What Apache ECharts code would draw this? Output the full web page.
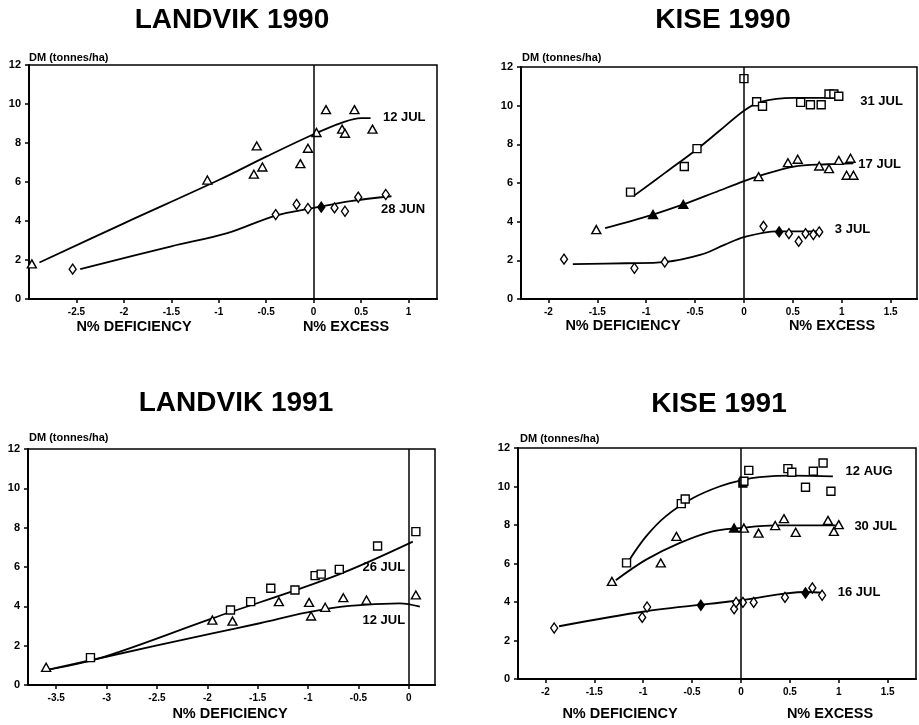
<!DOCTYPE html>
<html><head><meta charset="utf-8">
<script src="https://cdn.jsdelivr.net/npm/echarts@6/dist/echarts.min.js"></script>
<style>html,body{margin:0;padding:0;background:#fff}#c{width:919px;height:725px}</style>
</head><body><div id="c"></div>
<script>
// ---------- DATA ----------
const titles = ['LANDVIK 1990', 'KISE 1990', 'LANDVIK 1991', 'KISE 1991'];
const yTicks = [0, 2, 4, 6, 8, 10, 12];
const xTicksL90 = [-2.5, -2, -1.5, -1, -0.5, 0, 0.5, 1];
const xTicksK90 = [-2, -1.5, -1, -0.5, 0, 0.5, 1, 1.5];
const xTicksL91 = [-3.5, -3, -2.5, -2, -1.5, -1, -0.5, 0];
const xTicksK91 = [-2, -1.5, -1, -0.5, 0, 0.5, 1, 1.5];

// LANDVIK 1990
const l90_12jul_pts = [[-2.97,1.8],[-1.12,6.1],[-0.63,6.4],[-0.60,7.85],[-0.54,6.77],[-0.14,6.94],[-0.06,7.73],[0.03,8.54],[0.13,9.71],[0.30,8.71],[0.33,8.5],[0.43,9.71],[0.62,8.71]];
const l90_12jul_fit = [[-2.89,1.87],[-2,3.88],[-1,6.1],[-0.5,7.3],[0,8.45],[0.3,9.05],[0.5,9.28],[0.6,9.28]];
const l90_28jun_pts = [[-2.54,1.53],[-0.40,4.33],[-0.18,4.85],[-0.06,4.64],[0.08,4.71],[0.22,4.67],[0.33,4.5],[0.47,5.22],[0.76,5.36]];
const l90_28jun_fit = [[-2.46,1.53],[-1.5,2.7],[-0.91,3.38],[-0.4,4.28],[0,4.67],[0.39,5.02],[0.82,5.27]];

// KISE 1990
const k90_31jul_pts = [[-1.16,5.53],[-0.61,6.85],[-0.48,7.78],[0,11.4],[0.13,10.2],[0.19,9.97],[0.58,10.17],[0.68,10.05],[0.79,10.05],[0.87,10.6],[0.92,10.6],[0.97,10.49]];
const k90_31jul_fit = [[-1.13,5.32],[-0.8,6.55],[-0.48,7.75],[-0.25,8.7],[0,9.74],[0.17,10.2],[0.51,10.4],[0.97,10.4]];
const k90_17jul_pts = [[-1.51,3.59],[-0.93,4.37],[-0.62,4.89],[0.15,6.33],[0.45,7.05],[0.55,7.23],[0.77,6.88],[0.87,6.74],[0.97,7.17],[1.09,7.28],[1.05,6.4],[1.12,6.4]];
const k90_17jul_fit = [[-1.42,3.67],[-0.93,4.37],[-0.62,4.89],[-0.3,5.51],[0,6.1],[0.15,6.36],[0.51,6.85],[0.85,6.97],[1.12,7.02]];
const k90_3jul_pts = [[-1.84,2.06],[-1.12,1.59],[-0.81,1.91],[0.20,3.76],[0.36,3.47],[0.46,3.38],[0.56,2.98],[0.63,3.38],[0.71,3.33],[0.77,3.47]];
const k90_3jul_fit = [[-1.75,1.8],[-1.2,1.85],[-0.81,1.91],[-0.44,2.29],[-0.2,2.8],[0,3.2],[0.34,3.5],[0.8,3.5]];

// LANDVIK 1991
const l91_26jul_pts = [[-3.16,1.39],[-1.77,3.81],[-1.57,4.24],[-1.37,4.92],[-1.13,4.83],[-0.93,5.56],[-0.87,5.64],[-0.69,5.88],[-0.31,7.07],[0.07,7.8]];
const l91_26jul_fit = [[-3.6,0.76],[-3.07,1.36],[-1.95,3.39],[-0.75,5.51],[0.04,7.29]];
const l91_12jul_pts = [[-3.6,0.9],[-1.95,3.3],[-1.75,3.25],[-1.29,4.24],[-0.99,4.2],[-0.97,3.51],[-0.83,3.95],[-0.65,4.44],[-0.42,4.32],[0.07,4.58]];
const l91_12jul_fit = [[-3.6,0.76],[-3.07,1.36],[-1.95,2.63],[-1.48,3.14],[-1.02,3.68],[-0.59,4.02],[-0.09,4.15],[0.11,3.98]];

// KISE 1991
const k91_12aug_pts = [[-1.17,6.03],[-0.61,9.11],[-0.57,9.35],[0.02,10.18],[0.03,10.27],[0.08,10.84],[0.48,10.93],[0.52,10.74],[0.66,9.96],[0.74,10.79],[0.84,11.22],[0.92,9.75]];
const k91_12aug_fit = [[-1.14,6.2],[-0.97,7.41],[-0.77,8.45],[-0.49,9.4],[-0.22,10.0],[0.02,10.35],[0.19,10.49],[0.53,10.56],[0.94,10.53]];
const k91_30jul_pts = [[-1.32,5.07],[-0.82,6.03],[-0.66,7.41],[-0.07,7.84],[0.03,7.84],[0.18,7.58],[0.35,7.97],[0.44,8.33],[0.56,7.62],[0.89,8.24],[0.95,7.67],[1.0,8.02]];
const k91_30jul_fit = [[-1.28,5.13],[-0.97,6.2],[-0.63,7.06],[-0.29,7.67],[-0.02,7.84],[0.36,7.98],[0.97,7.98]];
const k91_16jul_pts = [[-1.91,2.65],[-1.01,3.2],[-0.96,3.74],[-0.41,3.83],[-0.07,3.64],[-0.05,3.98],[0.02,3.98],[0.13,3.98],[0.45,4.24],[0.66,4.47],[0.73,4.73],[0.83,4.35]];
const k91_16jul_fit = [[-1.86,2.74],[-0.97,3.52],[0,4.09],[0.66,4.52],[0.85,4.47]];

// curve labels: [text, x, y]
const l90_labels = [['12 JUL',0.73,9.33],['28 JUN',0.71,4.59]];
const k90_labels = [['31 JUL',1.19,10.2],['17 JUL',1.17,6.96],['3 JUL',0.93,3.58]];
const l91_labels = [['26 JUL',-0.46,6.0],['12 JUL',-0.46,3.3]];
const k91_labels = [['12 AUG',1.07,10.78],['30 JUL',1.16,7.93],['16 JUL',0.99,4.5]];

// ---------- LAYOUT / STYLE ----------
const FF = '"Liberation Sans", Arial, Helvetica, sans-serif';
const panels = [
  {grid:{left:29,top:65,width:408,height:234}, xr:[-3,1.3], ticks:xTicksL90,
   sets:[{pts:l90_12jul_pts,fit:l90_12jul_fit,sym:'triangle',filled:[]},
         {pts:l90_28jun_pts,fit:l90_28jun_fit,sym:'diamond',filled:[4]}], labels:l90_labels},
  {grid:{left:521,top:67,width:396,height:232}, xr:[-2.28,1.77], ticks:xTicksK90,
   sets:[{pts:k90_31jul_pts,fit:k90_31jul_fit,sym:'rect',filled:[]},
         {pts:k90_17jul_pts,fit:k90_17jul_fit,sym:'triangle',filled:[1,2]},
         {pts:k90_3jul_pts,fit:k90_3jul_fit,sym:'diamond',filled:[4]}], labels:k90_labels},
  {grid:{left:28,top:449,width:407,height:236}, xr:[-3.78,0.26], ticks:xTicksL91,
   sets:[{pts:l91_26jul_pts,fit:l91_26jul_fit,sym:'rect',filled:[]},
         {pts:l91_12jul_pts,fit:l91_12jul_fit,sym:'triangle',filled:[]}], labels:l91_labels},
  {grid:{left:518,top:448,width:398,height:231}, xr:[-2.28,1.79], ticks:xTicksK91,
   sets:[{pts:k91_12aug_pts,fit:k91_12aug_fit,sym:'rect',filled:[3]},
         {pts:k91_30jul_pts,fit:k91_30jul_fit,sym:'triangle',filled:[3]},
         {pts:k91_16jul_pts,fit:k91_16jul_fit,sym:'diamond',filled:[3,9]}], labels:k91_labels}
];
const symSize = {triangle:[9,8], diamond:[7,10], rect:[8,8]};

const grids=[], xAxes=[], yAxes=[], series=[];
panels.forEach((p,i)=>{
  grids.push(Object.assign({show:true, borderColor:'#000', borderWidth:1.5, backgroundColor:'transparent'}, p.grid));
  xAxes.push({type:'value', gridIndex:i, min:p.xr[0], max:p.xr[1],
    axisLine:{show:true, onZero:false, lineStyle:{color:'#000', width:2}},
    axisTick:{show:true, length:4, customValues:p.ticks, lineStyle:{color:'#000', width:1.5}},
    axisLabel:{customValues:p.ticks, color:'#000', fontFamily:FF, fontWeight:'bold', fontSize:10, margin:8},
    splitLine:{show:false}});
  yAxes.push({type:'value', gridIndex:i, min:0, max:12, interval:2,
    axisLine:{show:true, onZero:false, lineStyle:{color:'#000', width:2}},
    axisTick:{show:true, length:4, customValues:yTicks, lineStyle:{color:'#000', width:1.5}},
    axisLabel:{customValues:yTicks, color:'#000', fontFamily:FF, fontWeight:'bold', fontSize:11, margin:8},
    splitLine:{show:false}});
  p.sets.forEach(s=>{
    series.push({type:'line', xAxisIndex:i, yAxisIndex:i, data:s.fit, smooth:0.35, showSymbol:false,
      lineStyle:{color:'#000', width:1.8, opacity:1}, silent:true, z:2});
    series.push({type:'scatter', xAxisIndex:i, yAxisIndex:i, symbol:s.sym, symbolSize:symSize[s.sym],
      data:s.pts.map((v,k)=>({value:v, itemStyle:{color: s.filled.includes(k)?'#000':'#fff'}})),
      itemStyle:{borderColor:'#000', borderWidth:1.4, opacity:1}, z:3});
  });
  series.push({type:'scatter', xAxisIndex:i, yAxisIndex:i, symbolSize:0, itemStyle:{opacity:1},
    data:p.labels.map(l=>({value:[l[1],l[2]], name:l[0]})),
    label:{show:true, position:'right', distance:0, formatter:'{b}', color:'#000', opacity:1,
      fontFamily:FF, fontWeight:'bold', fontSize:13},
    markLine:{silent:true, symbol:'none', label:{show:false},
      lineStyle:{color:'#000', width:1.5, type:'solid', opacity:1}, data:[{xAxis:0}]}, z:4});
});

const txt = (t,x,y,size,align)=>({type:'text', x:x, y:y,
  style:{text:t, fill:'#000', font:'bold '+size+'px '+FF, align:align||'center', verticalAlign:'middle'}});
const graphic = [
  txt(titles[0],232,20,28), txt(titles[1],723,20,28), txt(titles[2],236,403,28), txt(titles[3],719,404,28),
  txt('DM (tonnes/ha)',29,58,11,'left'), txt('DM (tonnes/ha)',522,58,11,'left'),
  txt('DM (tonnes/ha)',29,438,11,'left'), txt('DM (tonnes/ha)',520,439,11,'left'),
  txt('N% DEFICIENCY',134,327,14.5), txt('N% EXCESS',346,327,14.5),
  txt('N% DEFICIENCY',623,326,14.5), txt('N% EXCESS',832,326,14.5),
  txt('N% DEFICIENCY',230,714,14.5),
  txt('N% DEFICIENCY',620,714,14.5), txt('N% EXCESS',830,714,14.5)
];

const chart = echarts.init(document.getElementById('c'), null, {renderer:'canvas'});
chart.setOption({animation:false, backgroundColor:'#fff', grid:grids, xAxis:xAxes, yAxis:yAxes, series:series, graphic:graphic});
</script></body></html>
